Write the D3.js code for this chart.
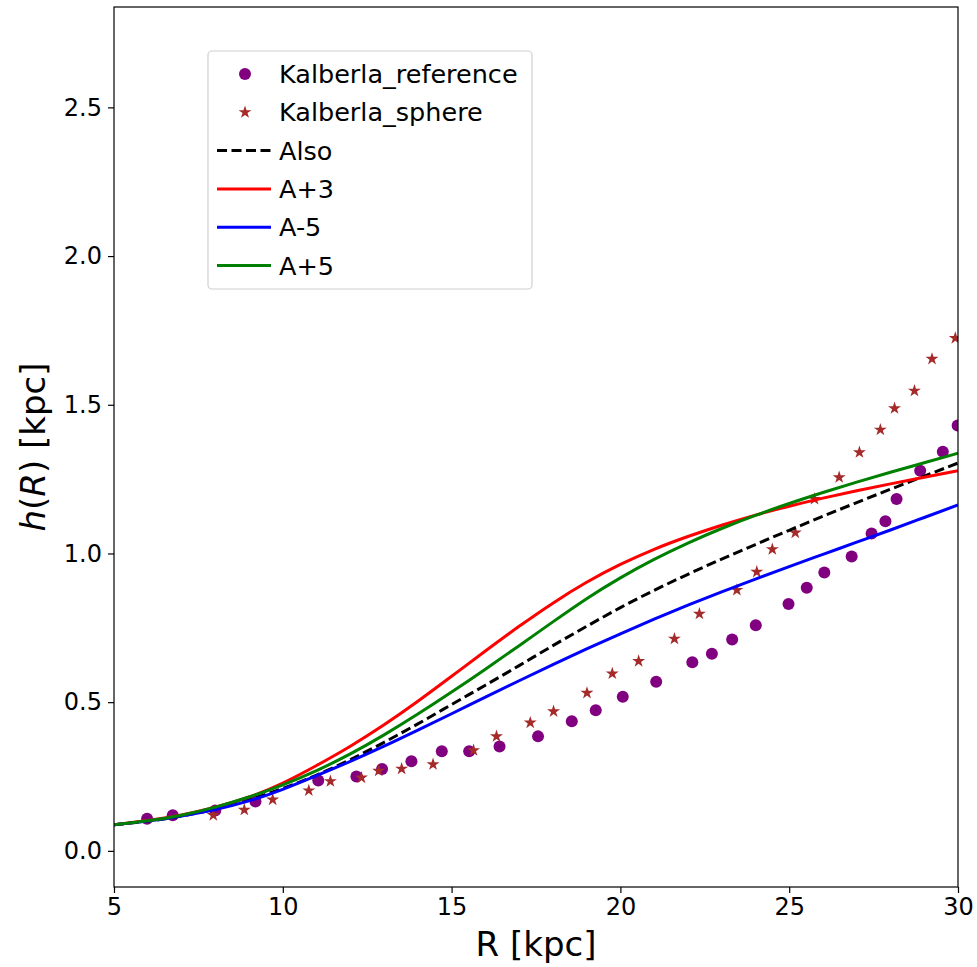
<!DOCTYPE html>
<html><head><meta charset="utf-8">
<script src="https://cdn.jsdelivr.net/npm/d3@7"></script>
<style>body{margin:0;background:#fff}svg{display:block}</style>
</head><body>
<svg id="chart" width="977" height="967"></svg>
<script>
// ---- data ----
const refR = [5.98,6.74,8.00,9.19,11.05,12.18,12.94,13.81,14.71,15.52,16.42,17.56,18.56,19.27,20.07,21.06,22.13,22.71,23.31,24.01,24.98,25.52,26.04,26.85,27.44,27.85,28.18,28.88,29.55,29.99];
const refH = [0.108,0.120,0.136,0.166,0.237,0.250,0.275,0.301,0.335,0.335,0.351,0.385,0.436,0.473,0.518,0.569,0.634,0.663,0.711,0.759,0.830,0.885,0.936,0.990,1.067,1.108,1.183,1.278,1.342,1.430];
const sphR = [7.94,8.86,9.70,10.77,11.41,12.33,12.84,13.52,14.45,15.65,16.33,17.33,18.02,19.01,19.76,20.54,21.60,22.34,23.45,24.04,24.50,25.18,25.75,26.48,27.08,27.70,28.12,28.71,29.23,29.92];
const sphH = [0.120,0.138,0.172,0.203,0.234,0.246,0.269,0.276,0.291,0.338,0.385,0.431,0.469,0.531,0.596,0.638,0.713,0.797,0.877,0.938,1.014,1.070,1.183,1.256,1.340,1.416,1.488,1.547,1.654,1.724];
const curveR = [5,6,7,8,9,10,11,12,13,14,15,16,17,18,19,20,21,22,23,24,25,26,27,28,29,30];
const alsoH   = [0.088,0.100,0.117,0.141,0.172,0.210,0.255,0.307,0.365,0.427,0.492,0.557,0.623,0.690,0.755,0.818,0.876,0.930,0.981,1.030,1.078,1.125,1.171,1.216,1.260,1.304];
const aPlus3H = [0.088,0.102,0.121,0.147,0.181,0.228,0.287,0.352,0.424,0.503,0.587,0.672,0.755,0.833,0.903,0.963,1.014,1.057,1.095,1.129,1.159,1.186,1.211,1.234,1.256,1.278];
const aMinus5H= [0.088,0.100,0.117,0.139,0.168,0.207,0.253,0.301,0.352,0.406,0.461,0.517,0.572,0.626,0.679,0.730,0.779,0.826,0.871,0.914,0.956,0.997,1.038,1.079,1.121,1.163];
const aPlus5H = [0.088,0.101,0.120,0.147,0.181,0.222,0.270,0.326,0.390,0.460,0.534,0.611,0.690,0.770,0.848,0.918,0.980,1.035,1.084,1.128,1.168,1.205,1.240,1.273,1.305,1.337];
const xTicks = [5,10,15,20,25,30];
const yTicks = [0.0,0.5,1.0,1.5,2.0,2.5];
const seriesNames = ["Kalberla_reference","Kalberla_sphere","Also","A+3","A-5","A+5"];

// ---- layout ----
const L = 114, R = 958, T = 7, B = 887;
const svg = d3.select("#chart");
const FONT = "DejaVu Sans";
const x = d3.scaleLinear().domain([5,30]).range([L,R]);
const y = d3.scaleLinear().domain([-0.1215,2.8375]).range([B,T]);

svg.append("defs").append("clipPath").attr("id","clip")
  .append("rect").attr("x",L).attr("y",T).attr("width",R-L).attr("height",B-T);

const plot = svg.append("g").attr("clip-path","url(#clip)");

const line = d3.line().x(d=>x(d[0])).y(d=>y(d[1])).curve(d3.curveNatural);
const curves = [
  {h:alsoH, color:"#000000", dash:"10,4.5"},
  {h:aPlus3H, color:"#ff0000", dash:null},
  {h:aMinus5H, color:"#0000ff", dash:null},
  {h:aPlus5H, color:"#008000", dash:null}
];

plot.selectAll("circle.ref").data(d3.zip(refR,refH)).join("circle")
  .attr("class","ref").attr("cx",d=>x(d[0])).attr("cy",d=>y(d[1])).attr("r",6)
  .attr("fill","#800080");
const star = d3.symbol().type(d3.symbolStar).size(52);
plot.selectAll("path.sph").data(d3.zip(sphR,sphH)).join("path")
  .attr("class","sph").attr("d",star).attr("transform",d=>`translate(${x(d[0])},${y(d[1])})`)
  .attr("fill","#a52a2a");

curves.forEach(c=>{
  plot.append("path").datum(d3.zip(curveR,c.h)).attr("d",line)
    .attr("fill","none").attr("stroke",c.color).attr("stroke-width",3)
    .attr("stroke-dasharray",c.dash);
});

// ---- axes ----
const xAxis = svg.append("g").attr("transform",`translate(0,${B})`)
  .call(d3.axisBottom(x).tickValues(xTicks).tickSize(6).tickPadding(5).tickFormat(d3.format("d")));
const yAxis = svg.append("g").attr("transform",`translate(${L},0)`)
  .call(d3.axisLeft(y).tickValues(yTicks).tickSize(6).tickPadding(6).tickFormat(d3.format(".1f")));
[xAxis,yAxis].forEach(a=>{
  a.select(".domain").remove();
  a.selectAll("line").attr("stroke","#000").attr("stroke-width",1.2);
  a.selectAll("text").attr("font-family",FONT).attr("font-size",24).attr("fill","#000");
});
svg.append("rect").attr("x",L).attr("y",T).attr("width",R-L).attr("height",B-T)
  .attr("fill","none").attr("stroke","#000").attr("stroke-width",1.2);

// axis labels
svg.append("text").attr("x",(L+R)/2).attr("y",956).attr("text-anchor","middle")
  .attr("font-family",FONT).attr("font-size",34).text("R [kpc]");
const yl = svg.append("text").attr("transform",`translate(45,${(T+B)/2}) rotate(-90)`)
  .attr("text-anchor","middle").attr("font-family",FONT).attr("font-size",34);
yl.append("tspan").attr("font-style","italic").text("h");
yl.append("tspan").text("(");
yl.append("tspan").attr("font-style","italic").text("R");
yl.append("tspan").text(") [kpc]");

// ---- legend ----
const lg = svg.append("g");
lg.append("rect").attr("x",208).attr("y",51).attr("width",324).attr("height",238).attr("rx",4)
  .attr("fill","#fff").attr("fill-opacity",0.8).attr("stroke","#d0d0d0").attr("stroke-width",1.2);
const rowY = i => 74 + i*38.3;
seriesNames.forEach((name,i)=>{
  const cy = rowY(i);
  if(i===0){
    lg.append("circle").attr("cx",245).attr("cy",cy).attr("r",6).attr("fill","#800080");
  } else if(i===1){
    lg.append("path").attr("d",star).attr("transform",`translate(245,${cy})`).attr("fill","#a52a2a");
  } else {
    const c = curves[i-2];
    lg.append("line").attr("x1",217).attr("x2",271).attr("y1",cy).attr("y2",cy)
      .attr("stroke",c.color).attr("stroke-width",3).attr("stroke-dasharray",c.dash);
  }
  lg.append("text").attr("x",279).attr("y",cy).attr("dy","0.36em")
    .attr("font-family",FONT).attr("font-size",25.5).text(name);
});
</script>
</body></html>
